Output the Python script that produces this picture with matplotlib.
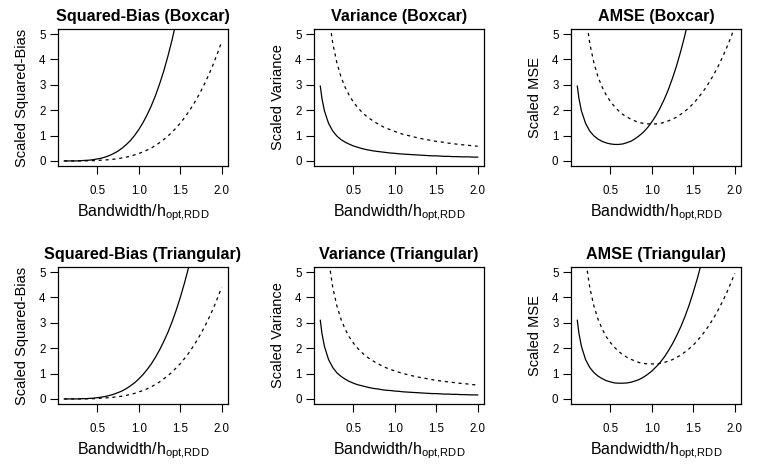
import matplotlib
matplotlib.use("Agg")
import matplotlib.pyplot as plt

plt.rcParams['font.family'] = ['Liberation Sans', 'DejaVu Sans']
plt.rcParams['mathtext.fontset'] = 'custom'
plt.rcParams['mathtext.rm'] = 'Liberation Sans'
plt.rcParams['mathtext.it'] = 'Liberation Sans'

# bandwidth relative to h_opt,RDD
h = [0.10, 0.12, 0.15, 0.20, 0.25, 0.30, 0.35, 0.40, 0.45, 0.50,
     0.55, 0.60, 0.65, 0.70, 0.75, 0.80, 0.85, 0.90, 0.95, 1.00,
     1.05, 1.10, 1.15, 1.20, 1.25, 1.30, 1.35, 1.40, 1.45, 1.50,
     1.55, 1.60, 1.65, 1.70, 1.75, 1.80, 1.85, 1.90, 1.95, 2.00]

# boxcar kernel
box_bias_solid = [0.00, 0.00, 0.00, 0.00, 0.00, 0.01, 0.02, 0.03, 0.05, 0.08,
                  0.11, 0.16, 0.22, 0.30, 0.39, 0.51, 0.65, 0.81, 1.01, 1.24,
                  1.51, 1.82, 2.17, 2.57, 3.03, 3.54, 4.12, 4.76, 5.48, 6.28,
                  7.16, 8.13, 9.19, 10.36, 11.63, 13.02, 14.52, 16.16, 17.93, 19.84]
box_bias_dash = [0.00, 0.00, 0.00, 0.00, 0.00, 0.00, 0.00, 0.01, 0.01, 0.02,
                 0.03, 0.04, 0.05, 0.07, 0.09, 0.12, 0.15, 0.19, 0.24, 0.29,
                 0.36, 0.43, 0.51, 0.61, 0.72, 0.84, 0.98, 1.13, 1.30, 1.49,
                 1.70, 1.93, 2.18, 2.46, 2.76, 3.09, 3.44, 3.83, 4.25, 4.70]
box_var_solid = [2.95, 2.46, 1.97, 1.48, 1.18, 0.98, 0.84, 0.74, 0.66, 0.59,
                 0.54, 0.49, 0.45, 0.42, 0.39, 0.37, 0.35, 0.33, 0.31, 0.30,
                 0.28, 0.27, 0.26, 0.25, 0.24, 0.23, 0.22, 0.21, 0.20, 0.20,
                 0.19, 0.18, 0.18, 0.17, 0.17, 0.16, 0.16, 0.16, 0.15, 0.15]
box_var_dash = [11.60, 9.67, 7.73, 5.80, 4.64, 3.87, 3.31, 2.90, 2.58, 2.32,
                2.11, 1.93, 1.78, 1.66, 1.55, 1.45, 1.36, 1.29, 1.22, 1.16,
                1.10, 1.05, 1.01, 0.97, 0.93, 0.89, 0.86, 0.83, 0.80, 0.77,
                0.75, 0.73, 0.70, 0.68, 0.66, 0.64, 0.63, 0.61, 0.59, 0.58]
box_mse_solid = [2.95, 2.46, 1.97, 1.48, 1.18, 0.99, 0.86, 0.77, 0.71, 0.67,
                 0.65, 0.65, 0.67, 0.72, 0.78, 0.88, 1.00, 1.14, 1.32, 1.54,
                 1.79, 2.09, 2.43, 2.82, 3.27, 3.77, 4.34, 4.97, 5.68, 6.48,
                 7.35, 8.31, 9.37, 10.53, 11.80, 13.18, 14.68, 16.32, 18.08, 19.99]
box_mse_dash = [11.60, 9.67, 7.73, 5.80, 4.64, 3.87, 3.31, 2.91, 2.59, 2.34,
                2.14, 1.97, 1.83, 1.73, 1.64, 1.57, 1.51, 1.48, 1.46, 1.45,
                1.46, 1.48, 1.52, 1.58, 1.65, 1.73, 1.84, 1.96, 2.10, 2.26,
                2.45, 2.66, 2.88, 3.14, 3.42, 3.73, 4.07, 4.44, 4.84, 5.28]

# triangular kernel
tri_bias_solid = [0.00, 0.00, 0.00, 0.00, 0.00, 0.01, 0.01, 0.02, 0.03, 0.05,
                  0.07, 0.10, 0.14, 0.19, 0.25, 0.32, 0.41, 0.52, 0.64, 0.79,
                  0.96, 1.16, 1.38, 1.64, 1.93, 2.26, 2.62, 3.03, 3.49, 4.00,
                  4.56, 5.18, 5.86, 6.60, 7.41, 8.29, 9.25, 10.30, 11.42, 12.64]
tri_bias_dash = [0.00, 0.00, 0.00, 0.00, 0.00, 0.00, 0.00, 0.01, 0.01, 0.02,
                 0.03, 0.04, 0.05, 0.07, 0.09, 0.11, 0.14, 0.18, 0.22, 0.28,
                 0.33, 0.40, 0.48, 0.57, 0.67, 0.79, 0.91, 1.06, 1.22, 1.39,
                 1.59, 1.80, 2.04, 2.30, 2.58, 2.89, 3.22, 3.58, 3.98, 4.40]
tri_var_solid = [3.10, 2.58, 2.07, 1.55, 1.24, 1.03, 0.89, 0.78, 0.69, 0.62,
                 0.56, 0.52, 0.48, 0.44, 0.41, 0.39, 0.36, 0.34, 0.33, 0.31,
                 0.30, 0.28, 0.27, 0.26, 0.25, 0.24, 0.23, 0.22, 0.21, 0.21,
                 0.20, 0.19, 0.19, 0.18, 0.18, 0.17, 0.17, 0.16, 0.16, 0.155]
tri_var_dash = [11.00, 9.17, 7.33, 5.50, 4.40, 3.67, 3.14, 2.75, 2.44, 2.20,
                2.00, 1.83, 1.69, 1.57, 1.47, 1.38, 1.29, 1.22, 1.16, 1.10,
                1.05, 1.00, 0.96, 0.92, 0.88, 0.85, 0.82, 0.79, 0.76, 0.73,
                0.71, 0.69, 0.67, 0.65, 0.63, 0.61, 0.60, 0.58, 0.56, 0.55]
tri_mse_solid = [3.10, 2.58, 2.07, 1.55, 1.24, 1.04, 0.90, 0.80, 0.72, 0.67,
                 0.63, 0.62, 0.62, 0.63, 0.66, 0.71, 0.77, 0.86, 0.97, 1.10,
                 1.26, 1.44, 1.65, 1.90, 2.18, 2.50, 2.85, 3.25, 3.70, 4.21,
                 4.76, 5.37, 6.05, 6.78, 7.59, 8.46, 9.42, 10.46, 11.58, 12.80]
tri_mse_dash = [11.00, 9.17, 7.33, 5.50, 4.40, 3.67, 3.14, 2.76, 2.45, 2.22,
                2.03, 1.87, 1.74, 1.64, 1.56, 1.49, 1.43, 1.40, 1.38, 1.38,
                1.38, 1.40, 1.44, 1.49, 1.55, 1.64, 1.73, 1.85, 1.98, 2.12,
                2.30, 2.49, 2.71, 2.95, 3.21, 3.50, 3.82, 4.16, 4.54, 4.95]

panels = [
    ("Squared-Bias (Boxcar)", "Scaled Squared-Bias", box_bias_solid, box_bias_dash),
    ("Variance (Boxcar)", "Scaled Variance", box_var_solid, box_var_dash),
    ("AMSE (Boxcar)", "Scaled MSE", box_mse_solid, box_mse_dash),
    ("Squared-Bias (Triangular)", "Scaled Squared-Bias", tri_bias_solid, tri_bias_dash),
    ("Variance (Triangular)", "Scaled Variance", tri_var_solid, tri_var_dash),
    ("AMSE (Triangular)", "Scaled MSE", tri_mse_solid, tri_mse_dash),
]

W, H = 770, 475
fig = plt.figure(figsize=(W / 100, H / 100), dpi=100)
lefts = [58, 314, 571]
tops = [29, 267]
bw, bh = 170, 137

for i, (title, ylab, solid, dash) in enumerate(panels):
    r, c = divmod(i, 3)
    ax = fig.add_axes([lefts[c] / W, 1 - (tops[r] + bh) / H, bw / W, bh / H])
    ax.plot(h, solid, color='black', lw=0.9)
    ax.plot(h, dash, color='black', lw=0.9, linestyle=(0, (2.5, 3)))
    ax.set_xlim(0.024, 2.076)
    ax.set_ylim(-0.2, 5.2)
    ax.set_xticks([0.5, 1.0, 1.5, 2.0])
    ax.set_xticklabels(["0.5", "1.0", "1.5", "2.0"])
    ax.set_yticks([0, 1, 2, 3, 4, 5])
    ax.tick_params(axis='x', length=6, width=0.8, pad=8, labelsize=8.3)
    ax.tick_params(axis='y', length=6, width=0.8, pad=3, labelsize=8.3)
    for s in ax.spines.values():
        s.set_linewidth(0.9)
    ax.text(0.5, 1 + 8 / bh, title, transform=ax.transAxes, ha='center',
            va='baseline', fontsize=11.6, fontweight='bold')
    ax.text(0.5, -50 / bh, r"Bandwidth/h$_{\mathrm{opt{,}RDD}}$", transform=ax.transAxes,
            ha='center', va='baseline', fontsize=11.5)
    ax.text(-36 / bw, 0.5, ylab, transform=ax.transAxes, rotation=90,
            ha='center', va='center', fontsize=10.5)

fig.savefig("out.png", dpi=100)
